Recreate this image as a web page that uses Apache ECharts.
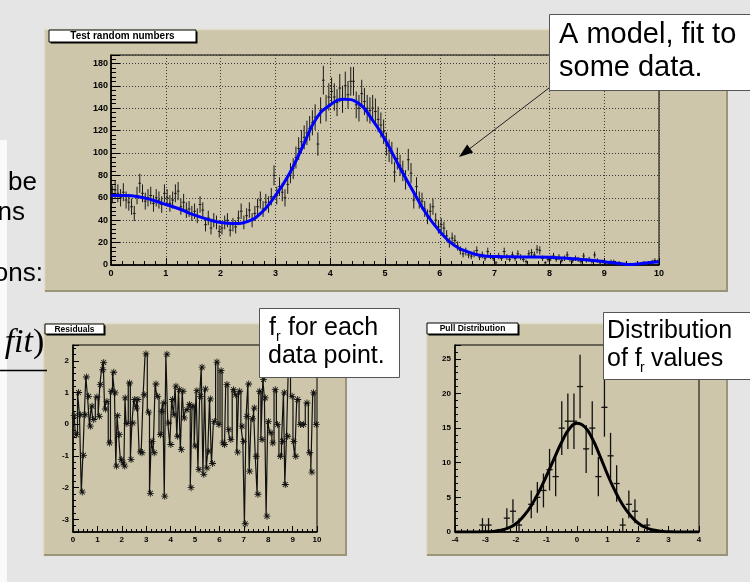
<!DOCTYPE html>
<html>
<head>
<meta charset="utf-8">
<script src="https://cdn.jsdelivr.net/npm/echarts@6/dist/echarts.min.js"></script>
<style>
  html, body { margin: 0; padding: 0; background: #e5e5e5; }
  #chart { width: 750px; height: 582px; }
</style>
</head>
<body>
<div id="chart"></div>
<script>
// top histogram, 200 bins of width 0.05 on [0, 10]
var binWidth = 0.05;
var counts = [
  63, 67, 64, 60, 65, 58, 56, 52, 46, 62, 73, 64, 57, 60, 62, 55, 60, 58, 54, 64,
  60, 55, 58, 64, 66, 52, 56, 49, 50, 46, 48, 44, 54, 49, 36, 42, 33, 40, 38, 30,
  33, 38, 40, 31, 36, 34, 42, 48, 38, 44, 49, 40, 46, 52, 58, 50, 56, 54, 61, 80,
  62, 70, 65, 60, 72, 82, 86, 96, 104, 110, 114, 118, 122, 127, 132, 108, 138, 165, 140, 150,
  155, 150, 145, 158, 148, 160, 152, 164, 164, 143, 140, 153, 146, 140, 138, 140, 137, 130, 125, 119,
  108, 102, 100, 83, 95, 89, 84, 76, 94, 82, 58, 70, 58, 57, 50, 43, 48, 52, 40, 34,
  36, 33, 26, 20, 24, 22, 17, 13, 10, 12, 9, 8, 10, 13, 7, 9, 6, 12, 8, 6,
  2, 8, 6, 12, 7, 5, 9, 6, 10, 7, 5, 3, 10, 11, 9, 14, 13, 6, 2, 5,
  6, 8, 5, 7, 4, 6, 9, 5, 4, 6, 5, 3, 8, 4, 5, 3, 9, 4, 2, 3,
  2, 1, 3, 3, 1, 2, 0, 1, 0, 1, 0, 1, 0, 1, 2, 1, 2, 3, 4, 3
];

// fitted model
var fitX = [0, 0.25, 0.5, 0.75, 1, 1.25, 1.5, 1.75, 2, 2.25, 2.5, 2.75, 3, 3.25, 3.5, 3.75, 4, 4.25, 4.5, 4.75,
  5, 5.25, 5.5, 5.75, 6, 6.25, 6.5, 6.75, 7, 7.25, 7.5, 7.75, 8, 8.25, 8.5, 8.75, 9, 9.25, 9.5, 9.75, 10];
var fitY = [62, 62, 61, 58, 54, 50, 45, 41, 38, 37, 39, 47, 62, 81, 106, 131, 143, 148, 145, 131,
  112, 89, 67, 46, 30, 18, 12, 8.5, 7.5, 7.3, 7.2, 7.2, 7, 6.2, 5.3, 4.3, 3, 1.5, 0.5, 1.8, 3];

// residuals
var resX = [0.05, 0.14, 0.23, 0.30, 0.38, 0.43, 0.50, 0.55, 0.64, 0.71, 0.78, 0.85, 0.98, 1.08, 1.12, 1.22, 1.26, 1.33, 1.39, 1.50,
  1.57, 1.67, 1.73, 1.78, 1.83, 1.90, 1.98, 2.05, 2.12, 2.14, 2.21, 2.32, 2.38, 2.45, 2.53, 2.60, 2.66, 2.76, 2.83, 2.92,
  2.99, 3.10, 3.17, 3.24, 3.33, 3.40, 3.47, 3.58, 3.65, 3.72, 3.76, 3.85, 3.92, 4.01, 4.08, 4.15, 4.22, 4.29, 4.36, 4.44,
  4.51, 4.56, 4.67, 4.77, 4.84, 4.92, 5.01, 5.08, 5.16, 5.22, 5.29, 5.36, 5.43, 5.49, 5.56, 5.63, 5.72, 5.79, 5.90, 5.98,
  6.07, 6.15, 6.21, 6.31, 6.39, 6.47, 6.58, 6.67, 6.75, 6.83, 6.93, 6.99, 7.06, 7.13, 7.20, 7.24, 7.36, 7.43, 7.51, 7.58,
  7.65, 7.75, 7.81, 7.88, 7.95, 8.01, 8.11, 8.19, 8.29, 8.38, 8.50, 8.59, 8.66, 8.70, 8.80, 8.85, 8.98, 9.05, 9.13, 9.21,
  9.32, 9.45, 9.59, 9.70, 9.79, 9.86, 9.97];
var resY = [0.27, -0.33, 1.00, 0.30, -2.14, -0.98, 0.30, 1.49, 0.88, -0.06, 0.57, 0.15, 0.86, 0.25, 1.25, 1.72, 1.95, 0.48, 0.72, -0.59,
  1.04, 1.64, 0.99, -1.32, 0.27, -0.33, -1.11, -1.22, -1.32, 0.83, 0.02, 1.30, -1.11, 0.04, 0.78, 0.51, 0.78, -0.87, -0.90, 0.93,
  2.22, 0.38, -2.18, -0.54, -0.90, 1.27, 0.88, -0.33, 0.41, 0.67, -2.27, 2.21, 0.04, -0.64, 0.78, 0.30, 1.20, -0.38, 1.09, -0.80,
  1.04, 0.20, 0.46, 0.62, -2.00, 0.57, -0.69, 1.06, -1.43, 0.88, 1.80, -1.58, 1.11, -1.38, -0.85, 0.80, -1.24, 0.09, 1.96, -0.01,
  1.69, -0.59, -0.64, 1.25, -0.17, -0.48, 1.09, 0.93, -0.88, 1.04, -0.06, -0.54, -3.14, 0.25, 1.27, -1.48, 0.17, 0.51, -1.01, -2.21,
  1.04, -0.48, 1.41, 0.83, -2.90, 0.09, -0.27, -0.59, 1.09, -0.01, -1.01, -0.54, 0.99, -1.90, -0.38, 1.80, 0.88, -0.54, -1.01, 0.78,
  -0.01, -0.01, 0.67, -0.90, -1.51, 0.99, -0.01];

// pull distribution, bins of width 0.2
var pullX = [-3.1, -2.9, -2.3, -2.1, -1.9, -1.5, -1.3, -1.1, -0.9, -0.7, -0.5, -0.3, -0.1, 0.1, 0.3, 0.5, 0.7, 0.9, 1.1, 1.3, 1.5, 1.7, 1.9, 2.3];
var pullN = [1, 1, 2, 3, 1, 4, 5, 6, 9, 8, 15, 16, 16, 21, 12, 15, 8, 18, 11, 7, 1, 4, 3, 1];

var gaussX = [-4, -3.75, -3.5, -3.25, -3, -2.75, -2.5, -2.25, -2, -1.75, -1.5, -1.25, -1, -0.75, -0.5, -0.25, 0,
  0.25, 0.5, 0.75, 1, 1.25, 1.5, 1.75, 2, 2.25, 2.5, 2.75, 3, 3.25, 3.5, 3.75, 4];
var gaussY = [0, 0, 0, 0, 0.02, 0.08, 0.25, 0.6, 1.2, 2.3, 3.8, 5.8, 8.1, 10.6, 13.0, 14.9, 15.7,
  15.2, 13.5, 11.0, 8.3, 5.9, 3.9, 2.4, 1.3, 0.65, 0.28, 0.1, 0.03, 0, 0, 0, 0];

var FONT = 'Liberation Sans';
var TAN = '#cdc6aa';

var asterisk = 'path://M0,4.4L10,4.4L10,5.6L0,5.6Z M4.4,0L5.6,0L5.6,10L4.4,10Z ' +
  'M1.08,1.92L1.92,1.08L8.92,8.08L8.08,8.92Z M8.08,1.08L8.92,1.92L1.92,8.92L1.08,8.08Z';

function errBar(color, width) {
  return function (params, api) {
    var x = api.value(0), y = api.value(1), hw = api.value(2);
    var e = Math.sqrt(y);
    var lo = api.coord([x, y - e]), hi = api.coord([x, y + e]);
    var l = api.coord([x - hw, y]), r = api.coord([x + hw, y]);
    var st = { stroke: color, lineWidth: width };
    return {
      type: 'group',
      children: [
        { type: 'line', shape: { x1: lo[0], y1: lo[1], x2: hi[0], y2: hi[1] }, style: st },
        { type: 'line', shape: { x1: l[0], y1: l[1], x2: r[0], y2: r[1] }, style: st }
      ]
    };
  };
}

function axis(idx, min, max, fs, tickLen, extra) {
  var a = {
    type: 'value', gridIndex: idx, min: min, max: max,
    axisLine: { show: true, onZero: false, lineStyle: { color: '#000', width: 1.5 } },
    axisTick: { show: true, inside: true, length: tickLen, lineStyle: { color: '#000', width: 1 } },
    minorTick: { show: true, splitNumber: 5, length: Math.round(tickLen / 2), lineStyle: { color: '#000', width: 1 } },
    axisLabel: { color: '#000', fontFamily: FONT, fontWeight: 'bold', fontSize: fs, margin: 4 },
    splitLine: { show: false }
  };
  return Object.assign(a, extra || {});
}

function panel(x, y, w, h) {
  return [
    { type: 'rect', z: -10, shape: { x: x, y: y, width: w, height: h }, style: { fill: TAN } },
    { type: 'polyline', z: -9, shape: { points: [[x + 0.5, y + h], [x + 0.5, y + 0.5], [x + w, y + 0.5]] },
      style: { stroke: '#e2ddc8', lineWidth: 1.5, fill: null } },
    { type: 'polyline', z: -9, shape: { points: [[x + w - 1, y + 1], [x + w - 1, y + h - 1], [x + 1, y + h - 1]] },
      style: { stroke: '#9b9577', lineWidth: 2, fill: null } }
  ];
}

function titleBox(x, y, w, h, text, fs) {
  return [
    { type: 'rect', z: -8, shape: { x: x + 1.5, y: y + 1.5, width: w, height: h }, style: { fill: '#000' } },
    { type: 'rect', z: -7, shape: { x: x, y: y, width: w, height: h }, style: { fill: '#fff', stroke: '#000', lineWidth: 1 } },
    { type: 'text', z: -6, x: x + w / 2, y: y + h / 2 + 0.5,
      style: { text: text, fill: '#000', font: 'bold ' + fs + 'px "' + FONT + '"', align: 'center', verticalAlign: 'middle' } }
  ];
}

function note(x, y, w, h) {
  return { type: 'rect', z: 50, shape: { x: x, y: y, width: w, height: h }, style: { fill: '#fff', stroke: '#555', lineWidth: 1 } };
}

function word(x, baseline, text, fs, align) {
  return {
    type: 'text', z: 51, x: x, y: baseline - fs * 0.35,
    style: { text: text, fill: '#000', font: fs + 'px "' + FONT + '"', align: align || 'left', verticalAlign: 'middle' }
  };
}

var histData = counts.map(function (c, i) { return [i * binWidth + binWidth / 2, c, binWidth / 2]; });
var pullData = pullX.map(function (x, i) { return [x, pullN[i], 0.1]; });

var graphics = [
  { type: 'rect', z: -12, shape: { x: 0, y: 140, width: 7, height: 442 }, style: { fill: '#fafafa' } }
]
  .concat(panel(44, 29, 684, 263))
  .concat(panel(43, 323, 304, 233))
  .concat(panel(426, 323, 302, 233))
  .concat(titleBox(49, 30, 147, 12, 'Test random numbers', 10))
  .concat(titleBox(45, 324, 59, 10, 'Residuals', 8.5))
  .concat(titleBox(427, 323, 91, 11, 'Pull Distribution', 8.5))
  .concat([
    // slide text cut off at the left edge
    word(37, 192, 'be', 26, 'right'),
    word(25, 222, 'ns', 26, 'right'),
    word(43, 283, 'ons:', 26, 'right'),
    { type: 'text', z: 5, x: 33, y: 343, style: { text: 'fit', fill: '#000', font: 'italic 34px "Liberation Serif"', align: 'right', verticalAlign: 'middle' } },
    { type: 'text', z: 5, x: 33, y: 343, style: { text: ')', fill: '#000', font: '34px "Liberation Serif"', align: 'left', verticalAlign: 'middle' } },
    { type: 'line', z: 5, shape: { x1: 0, y1: 370.5, x2: 47, y2: 370.5 }, style: { stroke: '#000', lineWidth: 1.5 } },

    // arrow
    { type: 'line', z: 50, shape: { x1: 549, y1: 88, x2: 468, y2: 150 }, style: { stroke: '#222', lineWidth: 1 } },
    { type: 'polygon', z: 50, shape: { points: [[459, 157], [473.1, 152.5], [467.1, 144.5]] }, style: { fill: '#000' } },

    note(549.5, 14.5, 220, 76),
    word(559, 45, 'A model, fit to', 29),
    word(559, 78, 'some data.', 29),

    note(259.5, 308.5, 140, 69),
    word(269, 337, 'f', 25),
    word(276, 342, 'r', 14),
    word(281, 337, ' for each', 25),
    word(268, 365, 'data point.', 25),

    note(603.5, 312.5, 160, 67),
    word(607, 340, 'Distribution', 25),
    word(607, 368, 'of f', 25),
    word(640, 373, 'r', 14),
    word(644, 368, ' values', 25)
  ]);

var dotted = { show: true, lineStyle: { color: '#3a3a3a', width: 1, type: [1, 2] } };

var option = {
  animation: false,
  backgroundColor: '#e5e5e5',
  graphic: { elements: graphics },
  grid: [
    { left: 111, right: 91, top: 55, bottom: 317, show: true, borderColor: '#000', borderWidth: 1, backgroundColor: 'transparent', outerBoundsMode: 'none' },
    { left: 73, right: 433, top: 345, bottom: 50, show: true, borderColor: '#000', borderWidth: 1, backgroundColor: 'transparent', outerBoundsMode: 'none' },
    { left: 455, right: 51, top: 345, bottom: 50, show: true, borderColor: '#000', borderWidth: 1, backgroundColor: 'transparent', outerBoundsMode: 'none' }
  ],
  xAxis: [
    axis(0, 0, 10, 9, 7, { interval: 1, splitLine: dotted }),
    axis(1, 0, 10, 8, 6, { interval: 1 }),
    axis(2, -4, 4, 8, 6, { interval: 1 })
  ],
  yAxis: [
    axis(0, 0, 187.5, 9, 9, { interval: 20, splitLine: dotted, axisLabel: { color: '#000', fontFamily: FONT, fontWeight: 'bold', fontSize: 9, margin: 3, showMaxLabel: false } }),
    axis(1, -3.4, 2.5, 8, 6, { axisLabel: { color: '#000', fontFamily: FONT, fontWeight: 'bold', fontSize: 8, margin: 4, showMinLabel: false, showMaxLabel: false } }),
    axis(2, 0, 27, 8, 6, { axisLabel: { color: '#000', fontFamily: FONT, fontWeight: 'bold', fontSize: 8, margin: 4, showMaxLabel: false } })
  ],
  series: [
    {
      type: 'custom', xAxisIndex: 0, yAxisIndex: 0, data: histData,
      encode: { x: 0, y: 1 }, clip: true, z: 3,
      renderItem: errBar('#1a1a1a', 1)
    },
    {
      type: 'line', xAxisIndex: 0, yAxisIndex: 0, z: 4,
      data: fitX.map(function (x, i) { return [x, fitY[i]]; }),
      smooth: true, showSymbol: false, symbol: 'none',
      lineStyle: { color: '#0000ff', width: 3 }
    },
    {
      type: 'line', xAxisIndex: 1, yAxisIndex: 1, z: 3,
      data: resX.map(function (x, i) { return [x, resY[i]]; }),
      step: 'middle', symbol: asterisk, symbolSize: 7, showAllSymbol: true,
      itemStyle: { color: '#111' },
      lineStyle: { color: '#111', width: 1.2 }
    },
    {
      type: 'custom', xAxisIndex: 2, yAxisIndex: 2, data: pullData,
      encode: { x: 0, y: 1 }, clip: true, z: 3,
      renderItem: errBar('#111', 1.3)
    },
    {
      type: 'line', xAxisIndex: 2, yAxisIndex: 2, z: 4,
      data: gaussX.map(function (x, i) { return [x, gaussY[i]]; }),
      smooth: true, showSymbol: false, symbol: 'none',
      lineStyle: { color: '#000', width: 3 }
    }
  ]
};

var myChart = echarts.init(document.getElementById('chart'));
myChart.setOption(option);
</script>
</body>
</html>
